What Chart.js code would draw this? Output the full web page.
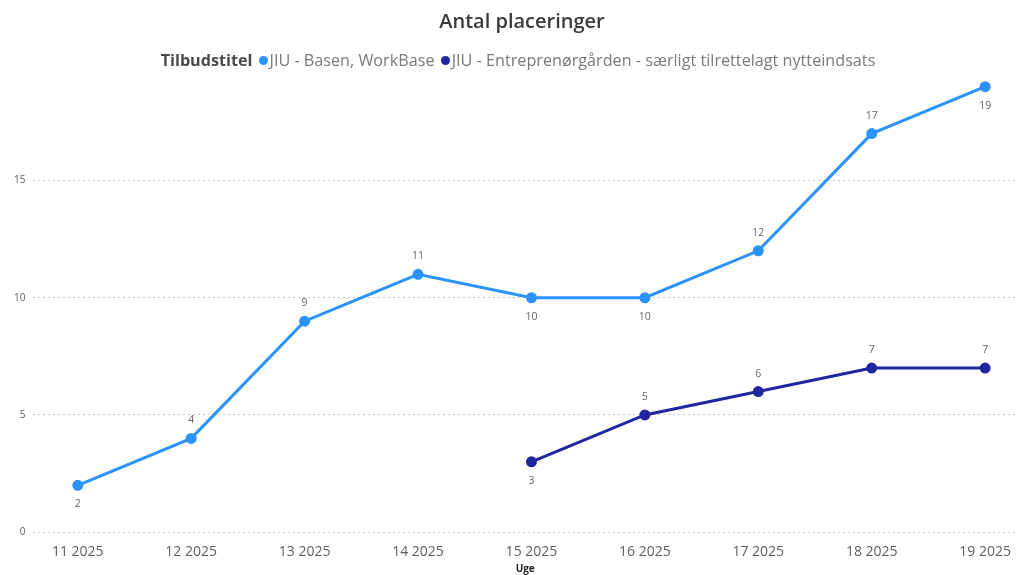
<!DOCTYPE html>
<html>
<head>
<meta charset="utf-8">
<script src="https://cdn.jsdelivr.net/npm/chart.js@4.4.1/dist/chart.umd.min.js"></script>
<style>
  body { margin: 0; background: #fff; font-family: "Open Sans", "Noto Sans", sans-serif; }
  #wrap { position: relative; width: 1024px; height: 575px; }
  #title { position: absolute; top: 7px; left: 10px; width: 1024px; text-align: center; font-size: 20px; font-weight: 600; color: #3b3a39; }
  #legend { position: absolute; top: 49px; left: 6px; width: 1024px; text-align: center; font-size: 16.2px; color: #7a7a7a; white-space: nowrap; }
  #legend b { color: #4a4a4a; margin-right: 4px; }
  .dot { display: inline-block; width: 9px; height: 9px; border-radius: 50%; margin: 0 2px 1px 2px; }
  canvas { position: absolute; top: 0; left: 0; }
</style>
</head>
<body>
<div id="wrap">
  <canvas id="chart" width="1024" height="575"></canvas>
  <div id="title">Antal placeringer</div>
  <div id="legend"></div>
</div>
<script>
// Data
const weeks = ['11 2025', '12 2025', '13 2025', '14 2025', '15 2025', '16 2025', '17 2025', '18 2025', '19 2025'];
const workBase = [2, 4, 9, 11, 10, 10, 12, 17, 19];
const entreprenor = [null, null, null, null, 3, 5, 6, 7, 7];
const seriesNames = ['JIU - Basen, WorkBase', 'JIU - Entreprenørgården - særligt tilrettelagt nytteindsats'];
const yTicks = [0, 5, 10, 15];

// where each data label sits, relative to its point
const workBaseLabelPos = ['below', 'above', 'above', 'above', 'below', 'below', 'above', 'above', 'below'];
const entreprenorLabelPos = ['below', 'below', 'below', 'below', 'below', 'above', 'above', 'above', 'above'];

const colors = ['#2b93ff', '#1f26a0'];

// Legend
const legend = document.querySelector('#legend');
legend.innerHTML = '<b>Tilbudstitel</b>' + seriesNames.map((name, i) =>
    '<span class="dot" style="background:' + colors[i] + '"></span>' + name + ' '
).join('');

const dataLabels = {
    id: 'dataLabels',
    afterDatasetsDraw(chart) {
        const ctx = chart.ctx;
        ctx.save();
        ctx.font = '10.5px "Open Sans", sans-serif';
        ctx.fillStyle = '#666666';
        ctx.textAlign = 'center';
        ctx.textBaseline = 'middle';
        chart.data.datasets.forEach((ds, di) => {
            const meta = chart.getDatasetMeta(di);
            meta.data.forEach((pt, i) => {
                const v = ds.data[i].y;
                if (v === null) return;
                const dy = ds.labelPos[i] === 'above' ? -18 : 19;
                ctx.fillText(String(v), pt.x, pt.y + dy);
            });
        });
        ctx.restore();
    }
};

const toPoints = arr => arr.map((y, i) => ({x: i, y: y}));

let myChart = new Chart(document.querySelector('#chart').getContext('2d'), {
    type: 'line',
    data: {
        datasets: [{
            label: seriesNames[0],
            data: toPoints(workBase),
            labelPos: workBaseLabelPos,
            borderColor: colors[0],
            backgroundColor: colors[0],
            borderWidth: 3,
            pointRadius: 4,
            pointHoverRadius: 4
        }, {
            label: seriesNames[1],
            data: toPoints(entreprenor),
            labelPos: entreprenorLabelPos,
            borderColor: colors[1],
            backgroundColor: colors[1],
            borderWidth: 3,
            pointRadius: 4,
            pointHoverRadius: 4
        }]
    },
    options: {
        responsive: false,
        animation: false,
        layout: { padding: { top: 75, right: 4, left: 6, bottom: 0 } },
        plugins: {
            legend: { display: false },
            title: { display: false },
            tooltip: { enabled: false }
        },
        scales: {
            x: {
                type: 'linear',
                min: -0.391,
                max: 8.281,
                afterBuildTicks: axis => { axis.ticks = weeks.map((w, i) => ({value: i})); },
                ticks: {
                    callback: v => weeks[v],
                    color: '#605e5c',
                    font: { size: 14, family: '"Open Sans", sans-serif' },
                    maxRotation: 0,
                    padding: 3
                },
                grid: { display: false },
                border: { display: false },
                title: {
                    display: true,
                    text: 'Uge',
                    color: '#252423',
                    font: { size: 10, weight: 'bold', family: '"Open Sans", sans-serif' },
                    padding: { top: 0, bottom: 0 }
                }
            },
            y: {
                min: 0,
                max: 19.5,
                afterBuildTicks: axis => { axis.ticks = yTicks.map(v => ({value: v})); },
                ticks: {
                    color: '#605e5c',
                    font: { size: 10, family: '"Open Sans", sans-serif' },
                    padding: 8
                },
                grid: {
                    color: '#c8c6c4',
                    lineWidth: 1,
                    drawTicks: false
                },
                border: { display: false, dash: [2, 3] }
            }
        }
    },
    plugins: [dataLabels]
});
</script>
</body>
</html>
